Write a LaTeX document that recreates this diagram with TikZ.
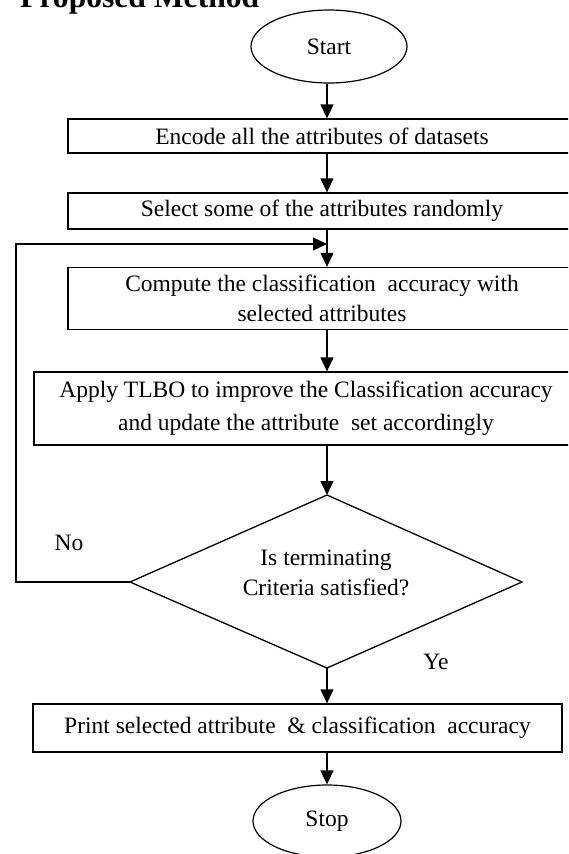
\documentclass[tikz,border=0pt]{standalone}
\usepackage{fontspec}
\setmainfont{Liberation Serif}
\usetikzlibrary{shapes.geometric,arrows.meta}
\begin{document}
\begin{tikzpicture}[x=1pt,y=-1pt,
  txt/.style={font=\fontsize{23.5}{30}\selectfont,inner sep=0pt,align=center},
  stepbox/.style={txt,draw,line width=1.3pt},
  term/.style={txt,draw,ellipse,line width=1.2pt},
  flow/.style={-{Triangle[length=14pt,width=13pt]},line width=1.3pt},
  plain/.style={line width=1.3pt}]
\useasboundingbox (0,0) rectangle (568,854);
\begin{scope}
\clip (0,0) rectangle (568,854);
\node[anchor=base west,inner sep=0pt,font=\fontsize{31.6}{36}\selectfont\bfseries] (title) at (20,7) {Proposed Method};
\coordinate (col) at (327,0);
\node[term,minimum width=156pt,minimum height=73pt] (start) at (329,46.5) {Start};
\node[stepbox,minimum width=508pt,minimum height=34pt] (b1) at (322,136) {Encode all the attributes of datasets};
\node[stepbox,minimum width=508pt,minimum height=36pt] (b2) at (322,211) {Select some of the attributes randomly};
\node[stepbox,minimum width=508pt,minimum height=62pt] (b3) at (322,298.5) {Compute the classification\ \ accuracy with\\selected attributes};
\node[stepbox,minimum width=544pt,minimum height=73pt,font=\fontsize{23.5}{33}\selectfont] (b4) at (306,408.5) {Apply TLBO to improve the Classification accuracy\\and update the attribute\ \ set accordingly};
\coordinate (dT) at (327,495);
\coordinate (dR) at (522,582);
\coordinate (dB) at (327,668);
\coordinate (dL) at (130,582);
\draw[plain,line join=miter] (dT) -- (dR) -- (dB) -- (dL) -- cycle;
\node[txt] (dq) at (326,573) {Is terminating\\Criteria satisfied?};
\node[stepbox,minimum width=529pt,minimum height=48pt] (pr) at (297.5,728) {Print selected attribute\ \ \& classification\ \ accuracy};
\node[term,minimum width=148pt,minimum height=72pt] (stop) at (327,821) {Stop};
\node[txt] (no) at (69,543) {No};
\node[txt] (ye) at (436,662) {Ye};
\coordinate (loopc) at (16,244);
\draw[flow] (col |- start.south) -- (col |- b1.north);
\draw[flow] (col |- b1.south) -- (col |- b2.north);
\draw[flow] (col |- b2.south) -- (col |- b3.north);
\draw[flow] (col |- b3.south) -- (col |- b4.north);
\draw[flow] (col |- b4.south) -- (dT);
\draw[flow] (dB) -- (dB |- pr.north);
\draw[flow] (dB |- pr.south) -- (stop.north);
\draw[flow] (dL) -| (loopc) -- (col |- loopc);
\end{scope}
\end{tikzpicture}
\end{document}
